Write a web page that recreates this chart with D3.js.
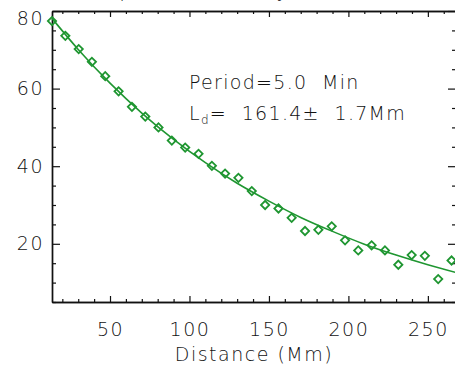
<!DOCTYPE html>
<html>
<head>
<meta charset="utf-8">
<script src="https://cdn.jsdelivr.net/npm/d3@7"></script>
<style>
  body { margin: 0; background: #fff; }
  svg { display: block; }
  text { font-family: "DejaVu Sans", sans-serif; font-weight: 200; fill: #111; }
</style>
</head>
<body>
<svg id="chart"></svg>
<script>
// measured distances (Mm) and amplitudes of the diamonds
var distance = [13.5, 21.9, 30.3, 38.6, 47.0, 55.4, 63.8, 72.2, 80.5, 88.9, 97.3,
  105.7, 114.1, 122.4, 130.8, 139.2, 147.6, 156.0, 164.3, 172.7, 181.1,
  189.5, 197.9, 206.2, 214.6, 223.0, 231.4, 239.8, 248.1, 256.5, 264.9];
var amplitude = [77.4, 73.6, 70.2, 66.9, 63.2, 59.3, 55.3, 52.8, 50.0, 46.6, 44.8,
  43.2, 40.1, 38.1, 37.0, 33.6, 30.0, 29.1, 26.7, 23.3, 23.6,
  24.5, 20.9, 18.3, 19.6, 18.3, 14.6, 17.1, 16.9, 10.9, 15.7];
// fitted curve
var fitDistance = [13.5, 30, 50, 70, 90, 110, 130, 150, 170, 190, 210, 230, 250, 267.7];
var fitAmplitude = [78.1, 70.1, 61.4, 53.7, 46.9, 40.9, 35.6, 31.0, 26.8, 23.2, 19.9, 17.1, 14.6, 12.6];

var xMajor = [50, 100, 150, 200, 250];
var yMajor = [20, 40, 60, 80];

var width = 455, height = 369;
var mLeft = 52, mRight = 456, mTop = 11, mBottom = 302;
var green = "#1f9631";
var fs = 19;

var svg = d3.select("#chart").attr("width", width).attr("height", height);

var x = d3.scaleLinear().domain([13.5, 267.7]).range([mLeft, mRight]);
var y = d3.scaleLinear().domain([5, 80]).range([mBottom, mTop]);

var xMinor = d3.range(20, 268, 10).filter(function(d) { return d % 50 != 0; });
var yMinor = d3.range(5, 81, 5).filter(function(d) { return d % 20 != 0; });

function styleAxis(g) {
  g.selectAll("path").attr("stroke", "#111").attr("stroke-width", 1.4);
  g.selectAll("line").attr("stroke", "#111").attr("stroke-width", 1.2);
  g.selectAll("text").attr("font-size", fs).attr("font-family", null)
    .attr("letter-spacing", 1.5).attr("fill", "#111");
}

// bottom
svg.append("g").attr("transform", "translate(0," + mBottom + ")")
  .call(d3.axisBottom(x).tickValues(xMinor).tickSize(-3).tickFormat("").tickSizeOuter(0))
  .call(styleAxis);
svg.append("g").attr("transform", "translate(0," + mBottom + ")")
  .call(d3.axisBottom(x).tickValues(xMajor).tickSize(-6).tickPadding(21).tickSizeOuter(0))
  .call(styleAxis);
// top
svg.append("g").attr("transform", "translate(0," + mTop + ")")
  .call(d3.axisTop(x).tickValues(xMinor).tickSize(-3).tickFormat("").tickSizeOuter(0))
  .call(styleAxis);
svg.append("g").attr("transform", "translate(0," + mTop + ")")
  .call(d3.axisTop(x).tickValues(xMajor).tickSize(-6).tickFormat("").tickSizeOuter(0))
  .call(styleAxis);
// left
svg.append("g").attr("transform", "translate(" + mLeft + ",0)")
  .call(d3.axisLeft(y).tickValues(yMinor).tickSize(-4).tickFormat("").tickSizeOuter(0))
  .call(styleAxis);
var yAx = svg.append("g").attr("transform", "translate(" + mLeft + ",0)")
  .call(d3.axisLeft(y).tickValues(yMajor).tickSize(-8).tickPadding(8).tickSizeOuter(0))
  .call(styleAxis);
yAx.selectAll(".tick").filter(function(d) { return d == 80; }).select("text").attr("dy", "0.7em");
// right
svg.append("g").attr("transform", "translate(" + mRight + ",0)")
  .call(d3.axisRight(y).tickValues(yMinor).tickSize(-4).tickFormat("").tickSizeOuter(0))
  .call(styleAxis);
svg.append("g").attr("transform", "translate(" + mRight + ",0)")
  .call(d3.axisRight(y).tickValues(yMajor).tickSize(-8).tickFormat("").tickSizeOuter(0))
  .call(styleAxis);

// fit line
var line = d3.line()
  .x(function(d, i) { return x(fitDistance[i]); })
  .y(function(d) { return y(d); })
  .curve(d3.curveNatural);
svg.append("path").datum(fitAmplitude)
  .attr("d", line).attr("fill", "none").attr("stroke", green).attr("stroke-width", 1.6);

// diamonds
var diamond = d3.symbol().type(d3.symbolSquare).size(34);
svg.selectAll(".pt").data(amplitude).enter().append("path")
  .attr("class", "pt")
  .attr("d", diamond)
  .attr("transform", function(d, i) { return "translate(" + x(distance[i]) + "," + y(d) + ") rotate(45)"; })
  .attr("fill", "none").attr("stroke", green).attr("stroke-width", 1.8);

// axis title
svg.append("text").attr("x", (mLeft + mRight) / 2).attr("y", 361)
  .attr("text-anchor", "middle").attr("font-size", fs).attr("letter-spacing", 1.5)
  .text("Distance (Mm)");

// cut-off title at the very top
svg.append("text").attr("x", 86).attr("y", -3).attr("font-size", fs).attr("letter-spacing", 1)
  .text("Amplitude of decay");

// annotation
svg.append("text").attr("x", 189).attr("y", 89).attr("font-size", fs).attr("letter-spacing", 1.3)
  .attr("xml:space", "preserve").style("white-space", "pre")
  .text("Period=5.0  Min");
var t2 = svg.append("text").attr("x", 189).attr("y", 120).attr("font-size", fs).attr("letter-spacing", 1.3)
  .attr("xml:space", "preserve").style("white-space", "pre");
t2.append("tspan").text("L");
t2.append("tspan").attr("font-size", 12).attr("dy", 4).text("d");
t2.append("tspan").attr("dy", -4).text("=  161.4±  1.7Mm");
</script>
</body>
</html>
